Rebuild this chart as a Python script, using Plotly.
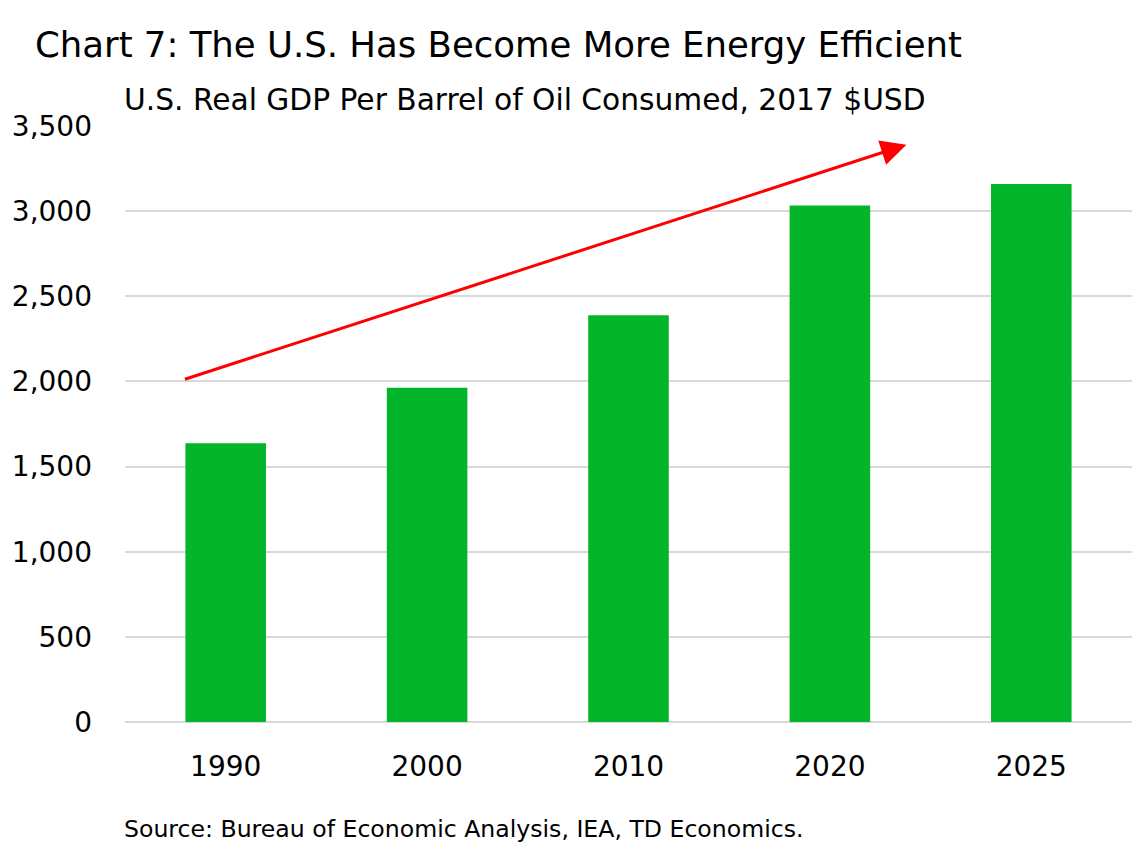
import plotly.graph_objects as go

# data
years = ["1990", "2000", "2010", "2020", "2025"]
gdp_per_barrel = [1637, 1963, 2388, 3033, 3160]
y_ticks = [0, 500, 1000, 1500, 2000, 2500, 3000, 3500]

# trend arrow (category index, value)
arrow_start = (-0.21, 2010)
arrow_end = (3.38, 3390)

W, H = 1145, 850
PAGE = 8  # default body margin of the html page
L, R, T, B = 117, 21, 118, 136
FONT = "DejaVu Sans, Liberation Sans, sans-serif"


def px(x):
    return (x - PAGE - L) / (W - L - R)


def py(y):
    return (H - B - (y - PAGE)) / (H - T - B)


fig = go.Figure()
fig.add_trace(go.Bar(
    x=years,
    y=gdp_per_barrel,
    marker=dict(color="#02B52A", line=dict(width=0)),
    width=0.4,
))

fig.add_annotation(
    x=arrow_end[0], y=arrow_end[1], ax=arrow_start[0], ay=arrow_start[1],
    xref="x", yref="y", axref="x", ayref="y",
    showarrow=True, arrowhead=2, arrowwidth=3, arrowsize=1.7,
    arrowcolor="#FF0000", text="",
)

fig.add_annotation(
    text="Chart 7: The U.S. Has Become More Energy Efficient",
    xref="paper", yref="paper", x=px(33), y=py(45),
    xanchor="left", yanchor="middle", showarrow=False,
    font=dict(size=35.5, color="#000000"),
)
fig.add_annotation(
    text="U.S. Real GDP Per Barrel of Oil Consumed, 2017 $USD",
    xref="paper", yref="paper", x=px(122), y=py(99.5),
    xanchor="left", yanchor="middle", showarrow=False,
    font=dict(size=29.7, color="#000000"),
)
fig.add_annotation(
    text="Source: Bureau of Economic Analysis, IEA, TD Economics.",
    xref="paper", yref="paper", x=px(122), y=py(828.5),
    xanchor="left", yanchor="middle", showarrow=False,
    font=dict(size=23.6, color="#000000"),
)

fig.update_layout(
    width=W, height=H,
    margin=dict(l=L, r=R, t=T, b=B, autoexpand=False),
    paper_bgcolor="white", plot_bgcolor="white",
    font=dict(family=FONT, color="#000000"),
    showlegend=False,
    bargap=0.6,
)
fig.update_xaxes(
    showgrid=False, showline=False, ticks="", automargin=False,
    tickfont=dict(size=28), ticklabelstandoff=25,
)
fig.update_yaxes(
    range=[0, 3500], tickvals=y_ticks, tickformat=",",
    showgrid=True, gridcolor="#D9D9D9", gridwidth=2,
    zeroline=True, zerolinecolor="#D9D9D9", zerolinewidth=2,
    showline=False, ticks="", automargin=False,
    tickfont=dict(size=28), ticklabelstandoff=32,
)

fig.write_html("out.html")
